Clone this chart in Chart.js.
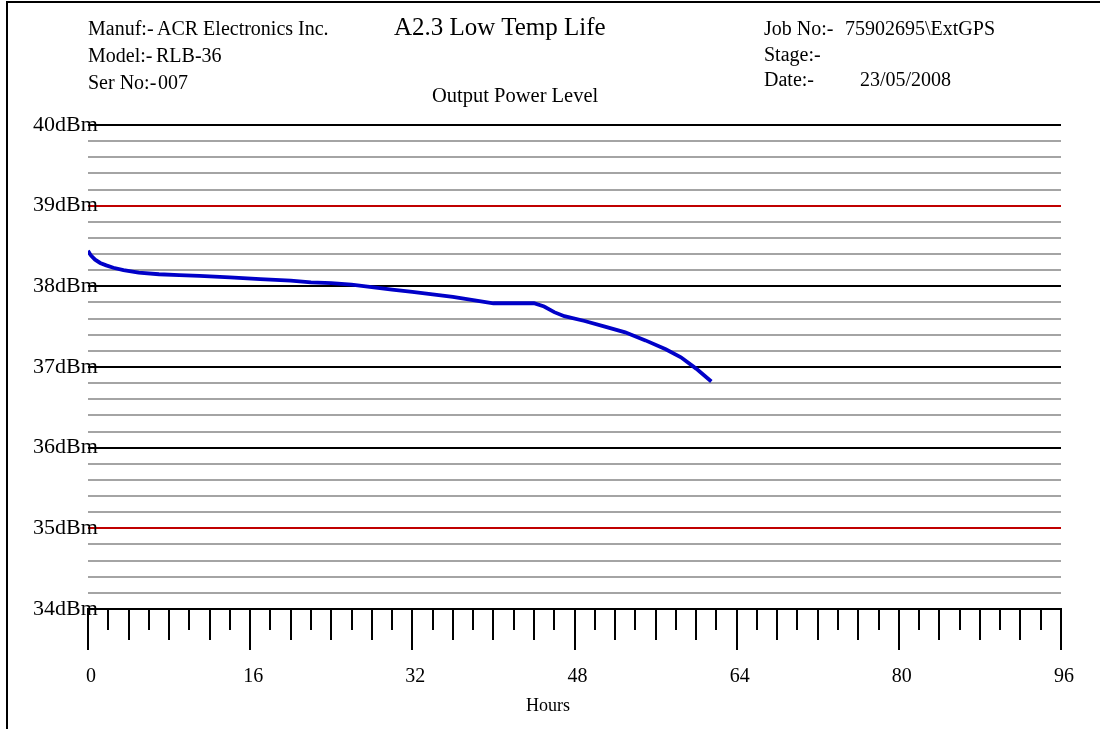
<!DOCTYPE html>
<html><head><meta charset="utf-8">
<script src="https://cdn.jsdelivr.net/npm/chart.js@4.4.1/dist/chart.umd.min.js"></script>
<style>
html,body{margin:0;padding:0;background:#fff;}
#wrap{position:relative;width:1100px;height:729px;overflow:hidden;background:#fff;}
#frame{position:absolute;left:6px;top:1px;width:1200px;height:800px;border-left:2px solid #000;border-top:2px solid #000;}
canvas{position:absolute;left:0;top:0;}
.t{position:absolute;font-family:"Liberation Serif","Times New Roman",serif;color:#000;white-space:nowrap;line-height:1;}
</style></head>
<body><div id="wrap"><div id="frame"></div><canvas id="c" width="1100" height="729"></canvas><div id="hdr"></div></div>
<script>
// ---- data ----
const hours = [0, 0.3, 0.7, 1.2, 1.8, 2.5, 3.5, 5, 7, 9, 11, 14, 17, 20, 22, 24, 26, 28, 30, 32, 34, 36, 38, 40, 42, 44, 45, 46, 47, 49, 51, 53, 55, 57, 58.5, 60, 61.5];
const powerDbm = [38.44, 38.38, 38.33, 38.29, 38.26, 38.23, 38.20, 38.17, 38.15, 38.14, 38.13, 38.11, 38.09, 38.07, 38.05, 38.04, 38.02, 37.99, 37.96, 37.93, 37.90, 37.87, 37.83, 37.79, 37.79, 37.79, 37.75, 37.68, 37.63, 37.57, 37.50, 37.43, 37.33, 37.22, 37.12, 36.98, 36.82];
const xLabelHours = [0, 16, 32, 48, 64, 80, 96];
const yLabelDbm = [34, 35, 36, 37, 38, 39, 40];
const yLimitDbm = [35, 39];
const headerTexts = [
  ["Manuf:-", 88, 35, 20], ["ACR Electronics Inc.", 157, 35, 20],
  ["Model:-", 88, 62, 20], ["RLB-36", 156, 62, 20],
  ["Ser No:-", 88, 89, 20], ["007", 158, 89, 20],
  ["A2.3 Low Temp Life", 394, 35, 25],
  ["Output Power Level", 432, 102, 20.5],
  ["Job No:-", 764, 35, 20], ["75902695\\ExtGPS", 845, 35, 20],
  ["Stage:-", 764, 61, 20],
  ["Date:-", 764, 86, 20], ["23/05/2008", 860, 86, 20],
  ["Hours", 526, 711, 18]
];

const hdr = document.getElementById('hdr');
headerTexts.forEach(([txt, x, base, size]) => {
  const d = document.createElement('div');
  d.className = 't';
  d.textContent = txt;
  d.style.fontSize = size + 'px';
  d.style.left = x + 'px';
  d.style.top = (base - 0.837 * size) + 'px';
  hdr.appendChild(d);
});

const isInt = v => Math.abs(v - Math.round(v)) < 1e-6;

const hourTicks = {
  id: 'hourTicks',
  afterDraw(chart) {
    const xs = chart.scales.x, c = chart.ctx, top = chart.chartArea.bottom;
    c.save();
    c.strokeStyle = '#000';
    c.lineWidth = 2;
    for (let h = xs.min; h <= xs.max; h += 2) {
      const len = h % 16 === 0 ? 41 : (h % 4 === 0 ? 31 : 21);
      const px = Math.round(xs.getPixelForValue(h));
      c.beginPath();
      c.moveTo(px, top - 1);
      c.lineTo(px, top + len);
      c.stroke();
    }
    c.restore();
  }
};

new Chart(document.getElementById('c'), {
  type: 'line',
  data: {
    datasets: [{
      data: hours.map((h, i) => ({x: h, y: powerDbm[i]})),
      borderColor: '#0000c8',
      borderWidth: 3.8,
      pointRadius: 0,
      tension: 0,
      fill: false
    }]
  },
  options: {
    responsive: false,
    animation: false,
    devicePixelRatio: 1,
    layout: {padding: {left: 0, right: 39, top: 125, bottom: 0}},
    plugins: {legend: {display: false}, tooltip: {enabled: false}, title: {display: false}},
    scales: {
      x: {
        type: 'linear', min: 0, max: 96,
        afterBuildTicks: s => { s.ticks = xLabelHours.map(v => ({value: v})); },
        afterFit: s => { s.height = 120; },
        grid: {drawOnChartArea: false, drawTicks: true, tickLength: 56, tickColor: 'rgba(0,0,0,0)'},
        border: {display: false},
        ticks: {padding: 0, labelOffset: 3, autoSkip: false, maxRotation: 0, color: '#000',
          font: {family: 'Liberation Serif', size: 20}}
      },
      y: {
        type: 'linear', min: 34, max: 40,
        afterBuildTicks: s => {
          const t = [];
          for (let i = 0; i <= 30; i++) t.push({value: +(34 + i * 0.2).toFixed(1)});
          s.ticks = t;
        },
        afterFit: s => { s.width = 88; },
        grid: {
          drawTicks: false, lineWidth: 2,
          color: ctx => {
            const v = ctx.tick ? ctx.tick.value : 0;
            if (!isInt(v)) return '#a4a4a4';
            if (yLimitDbm.includes(Math.round(v))) return '#c00000';
            return '#000';
          }
        },
        border: {display: false},
        ticks: {
          mirror: true, padding: -55, autoSkip: false, color: '#000',
          font: {family: 'Liberation Serif', size: 22},
          callback: v => (isInt(v) && yLabelDbm.includes(Math.round(v))) ? Math.round(v) + 'dBm' : ''
        }
      }
    }
  },
  plugins: [hourTicks]
});
</script>
</body></html>
